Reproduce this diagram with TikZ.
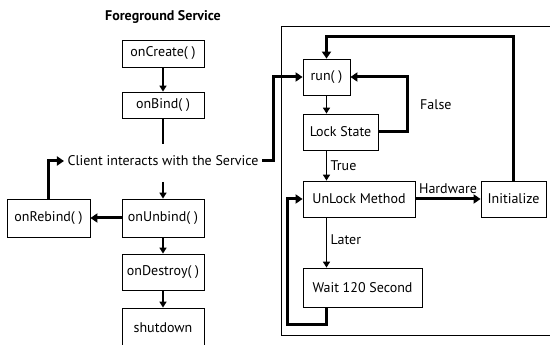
\documentclass[tikz,border=0pt]{standalone}
\usepackage{fontspec}
\setmainfont{PT Sans}
\usetikzlibrary{arrows.meta}
\begin{document}
\begin{tikzpicture}[x = 1pt, y = -1pt, font = \fontsize{14}{16}\selectfont,
		box/.style = {draw, line width = 0.8pt, inner sep = 0pt},
		flow/.style = {line width = 1.6pt, -{Triangle[length = 6pt, width = 7pt]}},
		loop/.style = {line width = 3pt, -{Triangle[length = 7pt, width = 9pt]}}]
	\useasboundingbox (0, 0) rectangle (550, 345);
	\begin{scope}
		\clip (0, 0) rectangle (550, 345);
		\draw[line width = 0.8pt] (281, 26) rectangle (600, 335);
		\node[box, minimum width = 82pt, minimum height = 40pt] (shutdown) at (163, 328) {shutdown};
	\end{scope}
	\node[font = \fontsize{14}{16}\selectfont\bfseries] (title) at (163, 17) {Foreground Service};
	\node[box, minimum width = 82pt, minimum height = 27pt] (create) at (163, 53.5) {onCreate( )};
	\node[box, minimum width = 82pt, minimum height = 26pt] (bind) at (163, 105) {onBind( )};
	\node (client) at (163, 161) {Client interacts with the Service};
	\node[box, minimum width = 82pt, minimum height = 38pt] (unbind) at (163, 218) {onUnbind( )};
	\node[box, minimum width = 83pt, minimum height = 38pt] (rebind) at (48.5, 218) {onRebind( )};
	\node[box, minimum width = 82pt, minimum height = 36pt] (destroy) at (163, 272) {onDestroy( )};
	\draw[flow] (create) -- (bind);
	\draw[line width = 1.6pt] (bind) -- (163, 144);
	\draw[flow] (163, 182) -- (unbind);
	\draw[loop] (unbind) -- (rebind);
	\draw[loop] (rebind.north) |- (client.west);
	\draw[flow] (unbind) -- (destroy);
	\draw[flow] (destroy) -- (shutdown);
	\node[box, minimum width = 47pt, minimum height = 36pt] (run) at (326.5, 77) {run( )};
	\node[box, minimum width = 75pt, minimum height = 36pt] (lock) at (340.5, 132) {Lock State};
	\node[box, minimum width = 112pt, minimum height = 36pt] (unlock) at (359, 199) {UnLock Method};
	\node[box, minimum width = 65pt, minimum height = 36pt] (init) at (513.5, 199) {Initialize};
	\node[box, minimum width = 119pt, minimum height = 39pt] (wait) at (362.5, 287.5) {Wait 120 Second};
	\coordinate (cr) at (273, 77);
	\coordinate (top) at (326.5, 37);
	\coordinate (wl) at (287, 324);
	\draw[loop] (client.east) -| (cr) -- (run.west);
	\draw[flow] (run.south) -- (run.south |- lock.north);
	\draw[loop] (lock.east) -- ++(29, 0) |- (run.east) node[pos = 0.25, right = 8pt] {False};
	\draw[flow] (run.south |- lock.south) -- node[right] {True} (run.south |- unlock.north);
	\draw[loop] (unlock.east) -- node[above] {Hardware} (init.west);
	\draw[loop] (init.north) |- (top) -- (run.north);
	\draw[flow] (run.south |- unlock.south) -- node[right, pos = 0.45] {Later} (run.south |- wait.north);
	\draw[loop] (run.south |- wait.south) |- (wl) |- (unlock.west);
\end{tikzpicture}
\end{document}
